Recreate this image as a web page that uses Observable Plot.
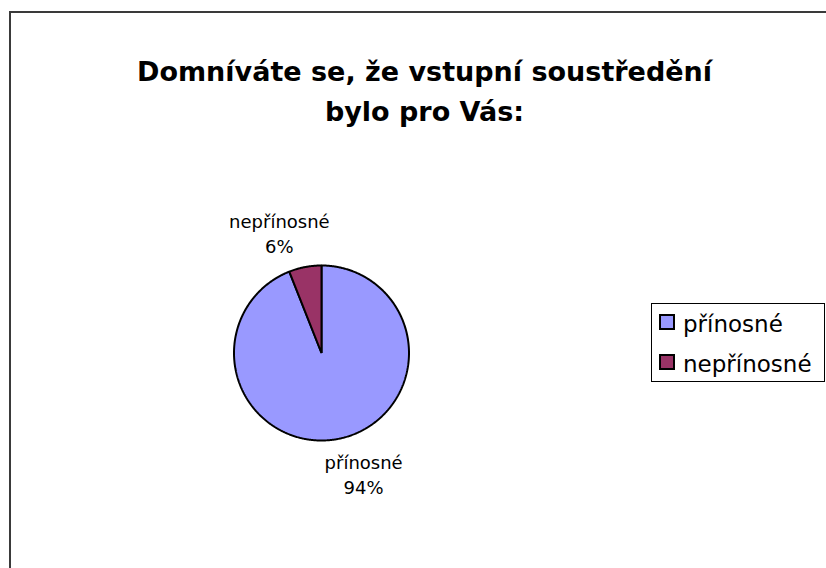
<!DOCTYPE html>
<html>
<head>
<meta charset="utf-8">
<script src="https://cdn.jsdelivr.net/npm/d3@7"></script>
<script src="https://cdn.jsdelivr.net/npm/@observablehq/plot@0.6"></script>
<style>
  body { margin: 0; background: #fff; }
  #wrap { position: relative; width: 826px; height: 568px; overflow: hidden; background: #fff; font-family: "DejaVu Sans", sans-serif; }
  #wrap svg { position: absolute; left: 0; top: 0; }
  #border { position: absolute; left: 9px; top: 11px; width: 900px; height: 700px; border-left: 2px solid #3a3a3a; border-top: 2px solid #3a3a3a; pointer-events: none; }
  #legend { position: absolute; left: 651px; top: 303px; width: 172px; height: 77px; border: 1px solid #000; background: #fff; }
  .sw { position: absolute; left: 7px; width: 12px; height: 12px; border: 2px solid #000; }
  .lt { position: absolute; left: 31px; font-size: 23px; line-height: 23px; color: #000; white-space: nowrap; }
</style>
</head>
<body>
<div id="wrap"><div id="border"></div></div>
<script>
const categories = ["přínosné", "nepřínosné"];
const values = [94, 6];
const colors = ["#9999FF", "#993366"];
const titleLines = ["Domníváte se, že vstupní soustředění", "bylo pro Vás:"];

// layout (pixels)
const W = 826, H = 568, CX = 321, CY = 352.5, R = 87.5;

const arcs = d3.pie().sort(null)(values);
const slicePts = [];
arcs.forEach((a, i) => {
  const name = categories[i];
  slicePts.push({ name, x: 0, y: 0 });
  const n = Math.max(2, Math.ceil((a.endAngle - a.startAngle) / (Math.PI / 360)));
  for (let k = 0; k <= n; k++) {
    const t = a.startAngle + (a.endAngle - a.startAngle) * k / n;
    slicePts.push({ name, x: Math.sin(t), y: Math.cos(t) });
  }
});

const labelShift = -8.5 * Math.PI / 180, labelR = 1.456;
const labels = arcs.map((a, i) => {
  const t = (a.startAngle + a.endAngle) / 2 + labelShift;
  return { text: `${categories[i]}\n${values[i]}%`, x: labelR * Math.sin(t), y: labelR * Math.cos(t) };
});

const plot = Plot.plot({
  width: W, height: H, margin: 0,
  style: { fontFamily: "DejaVu Sans", background: "transparent", color: "#000" },
  x: { domain: [-CX / R, (W - CX) / R], axis: null },
  y: { domain: [-(H - CY) / R, CY / R], axis: null },
  color: { domain: categories, range: colors },
  marks: [
    Plot.line(slicePts, { x: "x", y: "y", z: "name", fill: "name", stroke: "#000", strokeWidth: 2, curve: "linear-closed", strokeLinejoin: "miter" }),
    Plot.text(labels, { x: "x", y: "y", text: "text", fontSize: 18, lineHeight: 1.4, fill: "#000" }),
    Plot.text([titleLines.join("\n")], { text: d => d, frameAnchor: "top", lineAnchor: "top", dx: 11, dy: 52, fontSize: 27, fontWeight: "bold", lineHeight: 1.48, fill: "#000" })
  ]
});

const wrap = document.getElementById("wrap");
wrap.insertBefore(plot, wrap.firstChild);

const color = plot.scale("color");
const legend = document.createElement("div");
legend.id = "legend";
categories.forEach((c, i) => {
  const sw = document.createElement("div");
  sw.className = "sw";
  sw.style.top = (10 + i * 40) + "px";
  sw.style.background = color.apply(c);
  legend.appendChild(sw);
  const t = document.createElement("div");
  t.className = "lt";
  t.style.top = (8.6 + i * 40) + "px";
  t.textContent = c;
  legend.appendChild(t);
});
wrap.appendChild(legend);
</script>
</body>
</html>
